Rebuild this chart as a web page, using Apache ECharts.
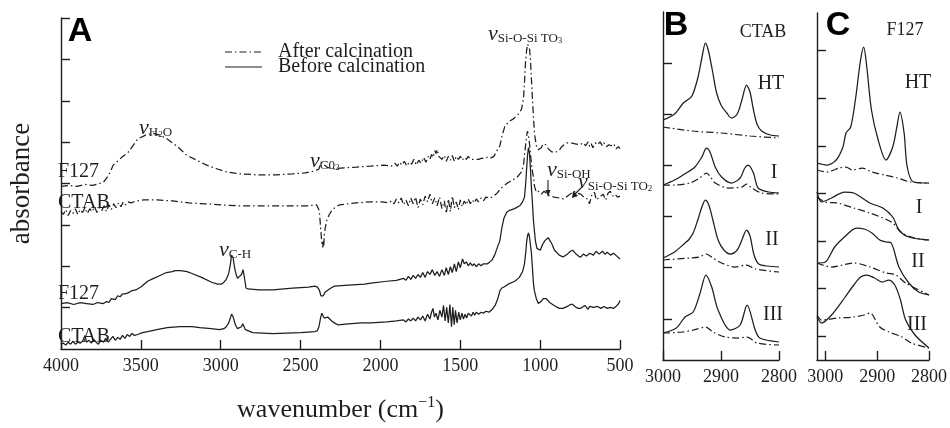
<!DOCTYPE html>
<html><head><meta charset="utf-8">
<script src="https://cdn.jsdelivr.net/npm/echarts@6/dist/echarts.min.js"></script>
<style>html,body{margin:0;padding:0;background:#fff}#c{width:950px;height:428px}</style>
</head><body><div id="c"></div>
<script>
// ---------- tick values ----------
const xTicksA = [4000, 3500, 3000, 2500, 2000, 1500, 1000, 500];
const xTicksBC = [3000, 2900, 2800];
const yTicksA = [42.75, 85.5, 128.25, 171, 213.75, 256.5, 299.25, 342];
const yTicksB = [41, 92.3, 143.3, 194.3, 245.7, 296.7];
const yTicksC = [23.3, 71.3, 119, 166.7, 214, 261.7, 309.3];
const legendNames = ['After calcination', 'Before calcination'];

// ---------- Panel A (wavenumber, absorbance a.u.) ----------
const A_F127_after = [[4000,168],[3950,169],[3900,168],[3850,170],[3800,169],[3760,171],[3735,172],[3700,180],[3673,190],[3620,198],[3581,203],[3519,217],[3470,221],[3427,223],[3380,221],[3335,217],[3270,209],[3211,200],[3150,195],[3088,190],[3020,186],[2965,183],[2880,181],[2780,180],[2650,180],[2550,181],[2472,182],[2410,184],[2385,186],[2372,193],[2365,194],[2350,190],[2336,188],[2300,186],[2250,187],[2150,188],[2059,189],[1980,190],[1930,189],
[1910,192],[1895,189],[1880,193],[1865,190],[1850,194],[1835,189],[1820,193],[1805,191],[1790,196],[1775,190],[1760,195],[1745,192],[1730,198],[1715,193],[1700,199],[1690,196],[1680,201],[1670,198],[1660,205],[1652,202],[1645,206],[1635,199],[1625,201],[1615,196],[1600,200],[1588,194],[1575,199],[1562,195],[1550,200],[1537,194],[1525,199],[1512,196],[1500,199],[1488,195],[1475,198],[1462,196],[1450,199],[1437,196],[1425,198],[1412,196],[1400,198],[1385,196],[1370,197],[1350,197],[1330,198],[1313,197],[1290,199],[1270,205],[1252,210],[1239,220],[1221,230],[1196,235],[1165,238],[1135,243],[1116,248],[1104,260],[1098,275],[1092,295],[1085,308],[1079,315],[1073,317],[1067,311],[1061,300],[1055,280],[1048,258],[1042,240],[1035,222],[1024,210],[1011,206],[1005,204],[993,208],[981,212],[965,211],[950,207],[930,204],[913,203],[895,204],[882,205],[865,209],[850,211],[830,213],[808,213],[780,212],[750,211],[730,213],[715,210],[700,214],[690,209],[680,212],[670,208],[655,213],[640,211],[625,214],[610,210],[600,213],[585,209],[570,211],[555,210],[540,212],[525,207],[510,209],[500,207]];

const A_CTAB_after = [[4000,142],[3985,139],[3970,144],[3955,138],[3940,143],[3925,140],[3910,145],[3895,139],[3880,144],[3865,141],[3850,146],[3835,140],[3820,145],[3805,142],[3790,147],[3775,141],[3760,146],[3745,143],[3730,148],[3715,142],[3700,149],[3685,144],[3670,150],[3655,146],[3640,151],[3625,147],[3610,152],[3595,149],[3580,152],[3560,151],[3530,153],[3480,154],[3400,154],[3300,153],[3200,151],[3100,150],[3000,149],[2900,148],[2800,148],[2600,148],[2450,148],[2400,149],[2390,148],[2383,143],[2378,133],[2372,120],[2366,108],[2361,105],[2358,112],[2355,106],[2351,118],[2346,125],[2336,133],[2320,139],[2305,143],[2280,147],[2256,149],[2150,151],[2060,152],[1991,152],[1950,151],
[1930,153],[1915,150],[1900,155],[1885,151],[1870,156],[1855,149],[1840,154],[1825,148],[1810,156],[1795,150],[1780,157],[1765,146],[1750,155],[1735,149],[1720,158],[1705,152],[1690,160],[1675,150],[1660,156],[1645,148],[1630,157],[1615,145],[1600,153],[1588,140],[1575,155],[1562,142],[1550,158],[1537,146],[1525,152],[1512,144],[1500,154],[1488,147],[1475,153],[1462,149],[1450,155],[1437,150],[1425,154],[1412,151],[1400,155],[1385,152],[1370,156],[1355,153],[1340,157],[1320,156],[1300,157],[1289,157],[1270,161],[1239,167],[1200,172],[1147,177],[1116,183],[1104,190],[1098,200],[1090,212],[1083,222],[1079,225],[1073,220],[1067,213],[1060,200],[1050,185],[1042,178],[1035,168],[1024,162],[1011,163],[993,160],[975,163],[950,159],[913,157],[880,156],[851,155],[820,159],[790,163],[770,161],[746,160],[720,156],[703,155],[691,150],[675,160],[660,162],[648,154],[636,153],[620,158],[605,160],[590,154],[575,161],[561,163],[545,158],[531,160],[515,157],[500,158]];

const A_F127_before = [[4000,47],[3960,48],[3920,46],[3880,48],[3840,47],[3800,46],[3770,48],[3735,47],[3715,49],[3700,48],[3685,52],[3673,52],[3660,51],[3645,55],[3630,54],[3615,57],[3600,57],[3580,58],[3560,60],[3532,61],[3500,64],[3458,70],[3420,73],[3380,76],[3340,79],[3304,80],[3285,81],[3250,81],[3211,80],[3180,78],[3120,74],[3057,69],[3020,67],[2996,67],[2980,69],[2965,72],[2950,78],[2940,87],[2932,97],[2928,99],[2922,94],[2915,86],[2908,80],[2903,77],[2895,73],[2885,72],[2870,77],[2860,82],[2855,80],[2848,70],[2842,63],[2829,62],[2760,61],[2675,61],[2550,63],[2450,64],[2410,65],[2395,64],[2383,61],[2372,55],[2367,53],[2358,55],[2345,59],[2336,60],[2310,63],[2287,65],[2200,66],[2100,67],[2059,68],[1960,70],[1900,71],[1856,73],
[1840,71],[1825,75],[1810,72],[1795,76],[1780,73],[1765,77],[1750,74],[1735,79],[1720,74],[1705,80],[1690,77],[1675,82],[1660,76],[1645,80],[1630,75],[1615,82],[1600,76],[1588,84],[1575,77],[1562,85],[1550,79],[1537,88],[1525,80],[1512,90],[1500,84],[1486,93],[1475,88],[1462,90],[1450,86],[1437,89],[1425,86],[1412,88],[1400,85],[1385,88],[1370,86],[1355,88],[1344,87],[1330,88],[1315,90],[1301,92],[1285,97],[1270,104],[1252,112],[1240,125],[1227,135],[1210,141],[1196,143],[1160,145],[1128,148],[1110,152],[1098,157],[1090,172],[1085,185],[1079,200],[1073,208],[1067,203],[1061,187],[1055,168],[1048,150],[1042,133],[1030,112],[1020,104],[1011,103],[999,102],[985,108],[970,112],[950,115],[935,111],[925,108],[910,102],[900,100],[880,97],[857,95],[830,98],[810,101],[796,102],[780,99],[760,96],[746,95],[730,98],[710,96],[690,99],[666,97],[650,101],[630,98],[610,101],[595,98],[580,100],[560,97],[540,99],[520,96],[510,98],[500,93]];

const A_CTAB_before = [[4000,5],[3985,6],[3970,4],[3955,7],[3940,5],[3925,8],[3910,5],[3895,7],[3880,6],[3865,8],[3850,14],[3840,7],[3825,9],[3810,6],[3795,10],[3780,7],[3766,5],[3750,9],[3735,7],[3720,11],[3704,7],[3690,10],[3675,13],[3660,9],[3645,12],[3630,10],[3615,14],[3600,11],[3585,15],[3570,13],[3555,16],[3540,14],[3520,15],[3490,17],[3458,18],[3400,20],[3335,22],[3254,23],[3180,23],[3131,22],[3060,21],[3008,20],[2980,21],[2965,23],[2950,27],[2940,32],[2932,36],[2928,37],[2922,33],[2915,29],[2908,25],[2903,23],[2895,21],[2885,20],[2870,23],[2862,26],[2858,27],[2852,24],[2845,20],[2835,18],[2800,17],[2675,16],[2500,17],[2410,18],[2395,19],[2385,23],[2375,32],[2367,37],[2360,35],[2352,32],[2340,33],[2330,33],[2318,31],[2305,29],[2288,27],[2268,25],[2200,26],[2120,27],[2059,27],[1960,28],[1900,29],[1856,30],
[1840,28],[1825,31],[1810,29],[1795,32],[1780,29],[1765,33],[1750,30],[1735,34],[1720,29],[1705,36],[1690,31],[1680,38],[1671,42],[1662,33],[1652,37],[1640,30],[1628,40],[1615,33],[1605,45],[1595,29],[1585,43],[1575,27],[1565,46],[1555,23],[1547,43],[1538,25],[1530,40],[1520,27],[1510,38],[1500,30],[1490,37],[1480,31],[1470,36],[1460,32],[1450,37],[1443,37],[1430,34],[1420,38],[1410,35],[1400,38],[1385,36],[1370,38],[1355,37],[1340,39],[1319,38],[1300,41],[1282,45],[1265,52],[1252,60],[1240,63],[1227,64],[1200,67],[1159,70],[1130,74],[1110,80],[1098,88],[1090,100],[1085,110],[1079,117],[1073,120],[1067,116],[1061,108],[1055,100],[1048,83],[1042,68],[1036,60],[1024,52],[1011,47],[995,49],[980,52],[962,52],[940,48],[913,45],[880,42],[857,42],[830,44],[810,46],[796,46],[775,43],[760,42],[746,42],[720,45],[700,41],[690,44],[666,43],[640,44],[620,42],[600,44],[580,42],[560,43],[540,42],[525,44],[518,43],[508,47],[500,50]];

// ---------- Panel B (CTAB, C-H region) ----------
const B_HT_solid = [[3000,240],[2980,246],[2965,257],[2958,260],[2950,264],[2940,282],[2932,305],[2927,317],[2922,310],[2915,290],[2908,268],[2900,255],[2890,247],[2882,242],[2872,246],[2864,260],[2856,275],[2850,268],[2844,250],[2838,236],[2830,229],[2815,225],[2800,224]];
const B_HT_dash = [[3000,233],[2950,229],[2900,227],[2850,224],[2800,222]];
const B_I_solid = [[3000,175],[2980,180],[2960,187],[2945,193],[2933,203],[2925,212],[2919,208],[2910,193],[2899,183],[2882,177],[2867,182],[2859,192],[2853,195],[2844,187],[2836,172],[2818,168],[2800,167]];
const B_I_dash = [[3000,175],[2980,175],[2954,177],[2937,182],[2925,187],[2918,183],[2910,177],[2887,172],[2864,173],[2856,176],[2847,172],[2830,167],[2800,166]];
const B_II_solid = [[3000,102],[2980,108],[2962,117],[2956,120],[2948,127],[2940,140],[2933,153],[2927,160],[2921,155],[2914,140],[2905,120],[2895,110],[2884,106],[2872,110],[2864,120],[2856,130],[2850,124],[2843,105],[2835,96],[2820,94],[2800,93]];
const B_II_dash = [[3000,100],[2954,102],[2937,103],[2925,106],[2914,102],[2899,97],[2876,93],[2856,95],[2841,91],[2800,88]];
const B_III_solid = [[3000,27],[2977,32],[2962,43],[2948,48],[2936,67],[2926,85],[2916,73],[2905,50],[2884,30],[2867,35],[2855,55],[2841,30],[2833,22],[2800,18]];
const B_III_dash = [[3000,27],[2966,28],[2948,30],[2926,33],[2914,28],[2893,23],[2870,22],[2855,23],[2838,17],[2800,15]];

// ---------- Panel C (F127, C-H region) ----------
const C_HT_solid = [[3016,197],[2997,195],[2979,200],[2966,213],[2960,227],[2951,233],[2942,260],[2932,300],[2926,313],[2920,293],[2911,250],[2898,220],[2883,200],[2870,213],[2862,233],[2856,248],[2848,227],[2842,193],[2830,178],[2800,177]];
const C_HT_dash = [[3016,190],[2997,188],[2973,192],[2960,193],[2948,190],[2929,192],[2910,188],[2886,185],[2861,182],[2836,178],[2800,177]];
const C_I_solid = [[3016,168],[3007,158],[2988,162],[2963,168],[2945,167],[2914,157],[2889,152],[2870,143],[2858,130],[2839,123],[2800,120]];
const C_I_dash = [[3016,163],[3000,158],[2976,157],[2945,152],[2914,147],[2889,142],[2870,137],[2852,127],[2827,122],[2800,120]];
const C_II_solid = [[3016,97],[3000,98],[2982,113],[2963,123],[2940,132],[2925,131],[2910,127],[2895,120],[2883,118],[2873,117],[2858,93],[2839,77],[2820,68],[2800,65]];
const C_II_dash = [[3016,97],[2988,93],[2945,97],[2914,93],[2883,87],[2864,85],[2845,77],[2800,65]];
const C_III_solid = [[3016,43],[3007,37],[2988,45],[2963,62],[2945,75],[2932,83],[2920,85],[2905,82],[2890,78],[2878,80],[2866,75],[2855,60],[2845,40],[2827,25],[2800,12]];
const C_III_dash = [[3016,45],[3007,40],[2975,42],[2945,43],[2925,45],[2914,47],[2895,33],[2877,28],[2852,23],[2834,17],[2800,12]];

// ---------- chart ----------
const SERIF = "'Liberation Serif','Times New Roman',serif";
const SANS = "'Liberation Sans',Arial,sans-serif";
const INK = '#1e1e1e';
const DASHDOT = [7, 3, 1.5, 3];

function ser(name, data, idx, dashed, smooth) {
  return {name, type: 'line', xAxisIndex: idx, yAxisIndex: idx, data,
    symbol: 'none', showSymbol: false, silent: true, smooth: smooth || false,
    lineStyle: {color: INK, width: 1.25, type: dashed ? DASHDOT : 'solid'},
    itemStyle: {color: INK}};
}
const axisLine = {lineStyle: {color: INK, width: 1.4}};
function xAx(idx, min, max, ticks, extra) {
  return Object.assign({gridIndex: idx, type: 'value', min, max, inverse: true, interval: 100,
    axisLine, splitLine: {show: false},
    axisTick: {inside: true, length: 9, lineStyle: {color: INK, width: 1.4}, customValues: ticks},
    axisLabel: {customValues: ticks, fontFamily: SERIF, fontSize: 18, color: INK, margin: 8,
      formatter: v => String(Math.round(v))}}, extra || {});
}
function yAx(idx, max, ticks, extra) {
  return Object.assign({gridIndex: idx, type: 'value', min: 0, max,
    axisLine: Object.assign({show: true}, axisLine), splitLine: {show: false},
    axisTick: {show: true, inside: true, length: 9, lineStyle: {color: INK, width: 1.4}, customValues: ticks},
    axisLabel: {show: false}}, extra || {});
}
function sub(text, x, y) {
  return {type: 'text', x, y, silent: true, style: {text, fill: INK, verticalAlign: 'middle', align: 'left',
    rich: {n: {fontFamily: SERIF, fontStyle: 'italic', fontSize: 22, lineHeight: 22, fill: INK},
           s: {fontFamily: SERIF, fontSize: 13, lineHeight: 13, verticalAlign: 'bottom', fill: INK},
           t: {fontFamily: SERIF, fontSize: 9, lineHeight: 7, verticalAlign: 'bottom', fill: INK}}}};
}
function lbl(text, x, y, size, align) {
  return {type: 'text', x, y, silent: true, style: {text, fill: INK, font: size + 'px ' + SERIF,
    verticalAlign: 'middle', align: align || 'left'}};
}
function big(text, x, y) {
  return {type: 'text', x, y, silent: true, style: {text, fill: '#000', font: 'bold 34px ' + SANS,
    verticalAlign: 'middle', align: 'center'}};
}

const chart = echarts.init(document.getElementById('c'), null, {renderer: 'canvas'});
chart.setOption({
  animation: false,
  backgroundColor: '#fff',
  grid: [
    {left: 52, top: 18, width: 568, height: 342},
    {left: 663, top: 12, width: 116, height: 348},
    {left: 817, top: 13, width: 116, height: 347}
  ],
  xAxis: [
    xAx(0, 500, 4000, xTicksA, {interval: 500, name: '{a|wavenumber (cm}{b|−1}{a|)}', nameLocation: 'middle', nameGap: 46,
      nameTextStyle: {rich: {a: {fontFamily: SERIF, fontSize: 26, color: INK, lineHeight: 30},
                             b: {fontFamily: SERIF, fontSize: 16, color: INK, verticalAlign: 'top', lineHeight: 30}}}}),
    xAx(1, 2800, 3000, xTicksBC),
    xAx(2, 2800, 3016, xTicksBC)
  ],
  yAxis: [
    yAx(0, 342, yTicksA, {name: 'absorbance', nameLocation: 'middle', nameGap: 26,
      nameTextStyle: {fontFamily: SERIF, fontSize: 27, color: INK}}),
    yAx(1, 348, yTicksB),
    yAx(2, 347, yTicksC)
  ],
  series: [
    ser(legendNames[0], A_F127_after, 0, true),
    ser(legendNames[0], A_CTAB_after, 0, true),
    ser(legendNames[1], A_F127_before, 0, false),
    ser(legendNames[1], A_CTAB_before, 0, false),
    ser('B HT before', B_HT_solid, 1, false, 0.3),
    ser('B HT after', B_HT_dash, 1, true, 0.3),
    ser('B I before', B_I_solid, 1, false, 0.3),
    ser('B I after', B_I_dash, 1, true, 0.3),
    ser('B II before', B_II_solid, 1, false, 0.3),
    ser('B II after', B_II_dash, 1, true, 0.3),
    ser('B III before', B_III_solid, 1, false, 0.3),
    ser('B III after', B_III_dash, 1, true, 0.3),
    ser('C HT before', C_HT_solid, 2, false, 0.3),
    ser('C HT after', C_HT_dash, 2, true, 0.3),
    ser('C I before', C_I_solid, 2, false, 0.3),
    ser('C I after', C_I_dash, 2, true, 0.3),
    ser('C II before', C_II_solid, 2, false, 0.3),
    ser('C II after', C_II_dash, 2, true, 0.3),
    ser('C III before', C_III_solid, 2, false, 0.3),
    ser('C III after', C_III_dash, 2, true, 0.3)
  ],
  graphic: [
    big('A', 80, 32), big('B', 676, 26), big('C', 838, 26),
    // legend
    {type: 'line', silent: true, shape: {x1: 225, y1: 52, x2: 262, y2: 52}, style: {stroke: INK, lineWidth: 1.2, lineDash: DASHDOT}},
    {type: 'line', silent: true, shape: {x1: 225, y1: 67, x2: 262, y2: 67}, style: {stroke: INK, lineWidth: 1.2}},
    lbl(legendNames[0], 278, 52, 20), lbl(legendNames[1], 278, 67, 20),
    lbl('F127', 58, 172, 20), lbl('CTAB', 58, 203, 20), lbl('F127', 58, 294, 20), lbl('CTAB', 58, 337, 20),
    lbl('CTAB', 763, 32, 18, 'center'), lbl('F127', 905, 30, 18, 'center'),
    lbl('HT', 771, 84, 20, 'center'), lbl('I', 774, 173, 20, 'center'), lbl('II', 772, 240, 20, 'center'), lbl('III', 773, 315, 20, 'center'),
    lbl('HT', 918, 83, 20, 'center'), lbl('I', 919, 208, 20, 'center'), lbl('II', 918, 262, 20, 'center'), lbl('III', 917, 325, 20, 'center'),
    sub('{n|ν}{s|H}{t|2}{s|O}', 139, 128),
    sub('{n|ν}{s|C0}{t|2}', 310, 161),
    sub('{n|ν}{s|Si-O-Si TO}{t|3}', 488, 34),
    sub('{n|ν}{s|C-H}', 219, 250),
    sub('{n|ν}{s|Si-OH}', 547, 170),
    sub('{n|ν}{s|Si-O-Si TO}{t|2}', 578, 182),
    {type: 'line', silent: true, shape: {x1: 548, y1: 180, x2: 548, y2: 192}, style: {stroke: INK, lineWidth: 1.1}},
    {type: 'polygon', silent: true, shape: {points: [[548, 197], [545.5, 190], [550.5, 190]]}, style: {fill: INK}},
    {type: 'line', silent: true, shape: {x1: 582, y1: 187, x2: 575, y2: 194}, style: {stroke: INK, lineWidth: 1.1}},
    {type: 'polygon', silent: true, shape: {points: [[572, 198], [573, 191], [578, 196]]}, style: {fill: INK}}
  ]
});
</script>
</body></html>
